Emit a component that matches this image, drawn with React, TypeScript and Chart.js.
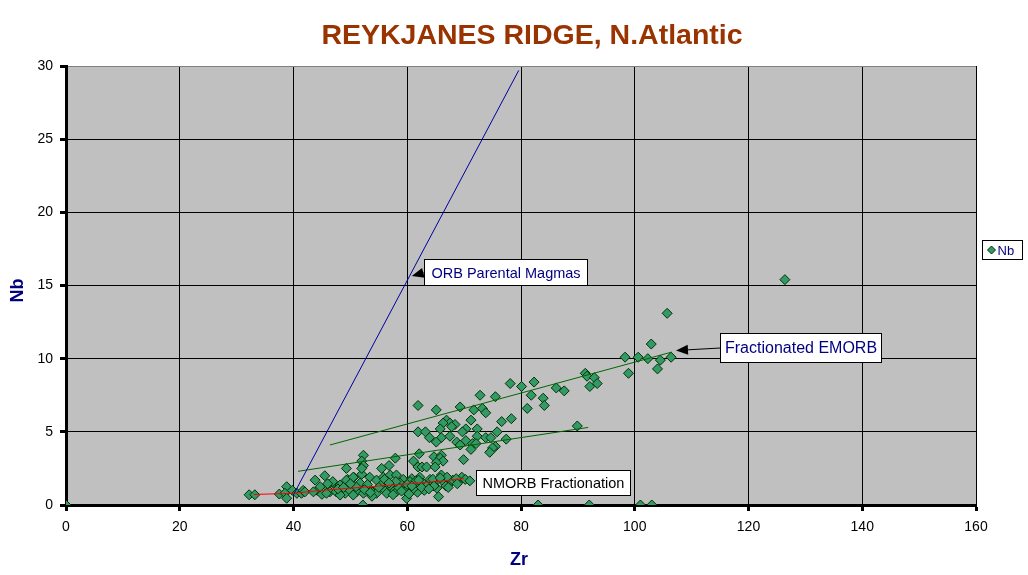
import React, { useEffect, useRef } from 'react';
import { Chart, registerables } from 'chart.js';

Chart.register(...registerables);

// Sample data (Zr vs Nb)
const ZR = [
  0, 126.4, 105.7, 102.9, 98.3, 100.6, 102.3, 104.5, 106.4, 104.0, 98.9, 91.3, 91.6, 92.9, 93.4, 92.1,
  87.6, 86.2, 82.3, 80.1, 78.1, 81.8, 83.9, 84.1, 81.1, 75.5, 72.8, 69.3, 71.7, 73.2, 73.8, 65.1, 61.9,
  78.3, 76.6, 71.2, 66.9, 67.5, 68.4, 66.3, 65.8, 67.8, 70.3, 72.3, 72.3, 69.7, 61.9, 63.2, 63.9, 66.0,
  67.5, 75.8, 73.8, 74.7, 77.4, 65.1, 68.7, 69.3, 70.3, 71.5, 72.1, 75.5, 75.0, 74.5, 71.2, 89.9, 62.1,
  64.7, 66.0, 65.8, 69.9, 61.1, 52.3, 57.9, 52.0, 52.3, 49.3, 55.5, 56.8, 61.9, 62.6, 63.4, 66.3, 65.1,
  64.9, 52.0, 45.5, 43.8, 59.9, 61.8, 65.5, 52.2, 83.0, 92.0, 101.0, 103.0, 32.2, 33.2, 37.5, 38.8,
  38.5, 38.8, 39.8, 40.6, 41.4, 41.7, 42.0, 47.0, 48.2, 49.5, 50.6, 51.7, 53.4, 54.6, 55.8, 57.0, 58.1,
  59.3, 60.8, 62.2, 64.0, 44.2, 45.8, 46.4, 47.5, 49.1, 49.9, 51.1, 52.3, 52.9, 54.0, 54.9, 56.1, 57.0,
  57.8, 58.7, 59.6, 60.5, 61.7, 62.8, 64.6, 66.3, 67.5, 69.3, 45.0, 48.2, 50.5, 54.6, 56.4, 58.1, 59.9,
  63.4, 65.2, 44.7, 45.8, 46.9, 48.2, 49.3, 50.5, 66.0, 64.5, 68.0, 64.7, 69.6, 68.6, 53.0, 55.5, 56.5,
  58.5, 60.0, 61.0, 63.0, 51.0, 47.8, 43.5, 53.8, 57.5, 60.3, 62.5, 66.8, 70.2, 67.0, 52.0,
  50.0, 52.5, 55.0, 56.0, 58.0, 59.0, 61.5, 63.8, 65.8, 67.2, 68.8, 71.0, 53.5, 56.8, 60.8, 62.0,
  48.8, 46.0
];
const NB = [
  0, 15.4, 13.1, 11.0, 10.1, 10.1, 10.0, 9.9, 10.1, 9.3, 9.0, 9.0, 8.8, 8.7, 8.3, 8.1,
  7.8, 8.0, 8.4, 8.1, 8.3, 7.5, 7.3, 6.8, 6.6, 7.4, 7.5, 6.7, 6.5, 6.6, 6.3, 6.5, 6.8,
  5.9, 5.7, 5.8, 5.8, 5.6, 5.5, 5.6, 5.2, 5.35, 5.2, 5.2, 4.7, 5.0, 5.0, 5.0, 4.6, 4.6,
  4.7, 5.0, 4.6, 4.6, 4.5, 4.3, 4.3, 4.1, 4.4, 4.2, 4.2, 4.0, 3.9, 3.6, 3.8, 5.4, 3.5,
  3.3, 3.4, 3.2, 3.1, 3.0, 3.4, 3.2, 3.0, 2.7, 2.5, 2.5, 2.7, 2.6, 2.6, 2.6, 3.0, 2.9,
  2.6, 2.1, 2.0, 1.7, 0.45, 0.87, 0.57, 0, 0, 0, 0, 0, 0.7, 0.7, 0.75, 1.25,
  0.8, 0.46, 1.0, 0.8, 0.8, 1.0, 0.9, 1.5, 1.3, 1.75, 1.9, 1.5, 1.9, 1.7, 1.9, 2.05, 2.05,
  1.75, 1.8, 1.9, 1.75, 1.0, 1.25, 0.9, 0.9, 0.8, 1.0, 0.9, 0.8, 1.15, 0.9, 1.15, 1.0, 1.3,
  1.0, 1.5, 1.25, 1.6, 1.35, 1.5, 1.45, 1.6, 1.5, 1.7, 0.73, 0.68, 0.68, 0.8, 0.8, 0.9, 1.0,
  1.3, 1.15, 1.25, 0.8, 1.6, 1.37, 1.7, 1.9, 2.05, 1.76, 1.7, 1.3, 1.9, 1.8, 1.4, 1.4, 1.6,
  1.2, 1.4, 1.1, 1.0, 1.25, 1.1, 0.9, 0.6, 0.7, 0.75, 1.2, 1.3, 1.75, 1.9, 2.5,
  1.45, 1.05, 1.2, 1.75, 1.6, 0.95, 1.65, 1.1, 1.85, 1.2, 1.45, 1.65, 0.85, 1.5, 1.3, 1.7,
  1.2, 1.45
];

// Model lines
const PARENTAL_ZR = [40, 79.6];
const PARENTAL_NB = [0.7, 29.7];
const EMORB_UPPER_ZR = [46.4, 106.5];
const EMORB_UPPER_NB = [4.1, 10.45];
const EMORB_LOWER_ZR = [40.8, 91.8];
const EMORB_LOWER_NB = [2.3, 5.3];
const NMORB_ZR = [33, 40, 45, 50, 55, 60, 65, 70];
const NMORB_NB = [0.72, 0.8, 1.0, 1.15, 1.3, 1.45, 1.6, 1.8];

// Axis ticks
const X_TICKS = [0, 20, 40, 60, 80, 100, 120, 140, 160];
const Y_TICKS = [0, 5, 10, 15, 20, 25, 30];

const TITLE = 'REYKJANES RIDGE, N.Atlantic';
const X_TITLE = 'Zr';
const Y_TITLE = 'Nb';
const SERIES_NAME = 'Nb';

// Annotation labels (box top-left in data units, arrow tip in data units)
const ANNOTATIONS = [
  { text: 'ORB Parental Magmas', x: 62.95, y: 16.81, size: 14.5, pad: 7, h: 26, color: '#000080', tip: [60.8, 15.65] },
  { text: 'Fractionated EMORB', x: 115.0, y: 11.75, size: 16, pad: 4.5, h: 29, color: '#000080', tip: [107.25, 10.56] },
  { text: 'NMORB Fractionation', x: 72.1, y: 2.39, size: 14.5, pad: 6, h: 25, color: '#000000', tip: null },
];

const FONT = '"Liberation Sans", Arial, sans-serif';

const pts = (xs: number[], ys: number[]) => xs.map((x, i) => ({ x, y: ys[i] }));

const overlayPlugin = {
  id: 'overlay',
  beforeDraw(chart: any) {
    const { ctx, chartArea: a } = chart;
    ctx.save();
    ctx.fillStyle = '#C0C0C0';
    ctx.fillRect(a.left, a.top, a.right - a.left, a.bottom - a.top);
    ctx.restore();
  },
  afterDraw(chart: any) {
    const { ctx, chartArea: a, scales } = chart;
    const xs = scales.x;
    const ys = scales.y;
    ctx.save();
    // Title
    ctx.fillStyle = '#993300';
    ctx.font = `bold 28.5px ${FONT}`;
    ctx.textAlign = 'center';
    ctx.textBaseline = 'alphabetic';
    ctx.fillText(TITLE, 532, 44);
    // Axis titles
    ctx.fillStyle = '#000080';
    ctx.font = `bold 18px ${FONT}`;
    ctx.textBaseline = 'middle';
    ctx.fillText(X_TITLE, (a.left + a.right) / 2 - 2, 560);
    ctx.save();
    ctx.translate(18, (a.top + a.bottom) / 2 + 5);
    ctx.rotate(-Math.PI / 2);
    ctx.fillText(Y_TITLE, 0, 0);
    ctx.restore();

    // Annotations
    for (const an of ANNOTATIONS) {
      ctx.font = `${an.size}px ${FONT}`;
      const tw = ctx.measureText(an.text).width;
      const bx = Math.round(xs.getPixelForValue(an.x)) + 0.5;
      const by = Math.round(ys.getPixelForValue(an.y)) + 0.5;
      const bw = Math.round(tw + 2 * an.pad);
      ctx.fillStyle = '#FFFFFF';
      ctx.fillRect(bx, by, bw, an.h);
      ctx.strokeStyle = '#000000';
      ctx.lineWidth = 1;
      ctx.strokeRect(bx, by, bw, an.h);
      ctx.fillStyle = an.color;
      ctx.textAlign = 'left';
      ctx.textBaseline = 'middle';
      ctx.fillText(an.text, bx + an.pad, by + an.h / 2 + 1);
      if (an.tip) {
        const tx = xs.getPixelForValue(an.tip[0]);
        const ty = ys.getPixelForValue(an.tip[1]);
        const sx = bx;
        const sy = by + an.h / 2;
        const ang = Math.atan2(ty - sy, tx - sx);
        const len = 12;
        const hw = 5;
        const baseX = tx - Math.cos(ang) * len;
        const baseY = ty - Math.sin(ang) * len;
        ctx.beginPath();
        ctx.moveTo(sx, sy);
        ctx.lineTo(baseX, baseY);
        ctx.strokeStyle = '#000';
        ctx.stroke();
        ctx.beginPath();
        ctx.moveTo(tx, ty);
        ctx.lineTo(baseX - Math.sin(ang) * hw, baseY + Math.cos(ang) * hw);
        ctx.lineTo(baseX + Math.sin(ang) * hw, baseY - Math.cos(ang) * hw);
        ctx.closePath();
        ctx.fillStyle = '#000';
        ctx.fill();
      }
    }

    // Legend
    const lx = 982.5, ly = 240.5, lw = 40, lh = 19;
    ctx.fillStyle = '#FFFFFF';
    ctx.fillRect(lx, ly, lw, lh);
    ctx.strokeStyle = '#000';
    ctx.lineWidth = 1;
    ctx.strokeRect(lx, ly, lw, lh);
    const cx = lx + 9, cy = ly + lh / 2;
    ctx.beginPath();
    ctx.moveTo(cx, cy - 4);
    ctx.lineTo(cx + 4, cy);
    ctx.lineTo(cx, cy + 4);
    ctx.lineTo(cx - 4, cy);
    ctx.closePath();
    ctx.fillStyle = '#339966';
    ctx.fill();
    ctx.strokeStyle = '#003300';
    ctx.stroke();
    ctx.fillStyle = '#000080';
    ctx.font = `13px ${FONT}`;
    ctx.textAlign = 'left';
    ctx.textBaseline = 'middle';
    ctx.fillText(SERIES_NAME, cx + 6, cy + 1);
    ctx.restore();
  },
};

export default function App() {
  const ref = useRef<HTMLCanvasElement>(null);
  useEffect(() => {
    document.body.style.margin = '0';
    const canvas = ref.current!;
    const lineDs = (label: string, xs: number[], ys: number[], color: string) => ({
      label,
      data: pts(xs, ys),
      showLine: true,
      borderColor: color,
      backgroundColor: color,
      borderWidth: 1,
      pointRadius: 0,
      order: 0,
    });
    const chart = new Chart(canvas, {
      type: 'scatter',
      data: {
        datasets: [
          lineDs('ORB Parental Magmas', PARENTAL_ZR, PARENTAL_NB, '#0000A0'),
          lineDs('EMORB upper', EMORB_UPPER_ZR, EMORB_UPPER_NB, '#006600'),
          lineDs('EMORB lower', EMORB_LOWER_ZR, EMORB_LOWER_NB, '#006600'),
          lineDs('NMORB Fractionation', NMORB_ZR, NMORB_NB, '#FF0000'),
          {
            label: SERIES_NAME,
            data: pts(ZR, NB),
            pointStyle: 'rectRot',
            pointRadius: 5,
            backgroundColor: '#339966',
            borderColor: '#003300',
            borderWidth: 1,
            showLine: false,
            order: 10,
          } as any,
        ],
      },
      options: {
        responsive: false,
        animation: false,
        layout: { padding: { left: 0, top: 66, right: 52, bottom: 0 } },
        plugins: { legend: { display: false }, tooltip: { enabled: false }, title: { display: false } },
        scales: {
          x: {
            type: 'linear',
            min: 0,
            max: 160,
            afterBuildTicks: (s: any) => { s.ticks = X_TICKS.map((v) => ({ value: v })); },
            afterFit: (s: any) => { s.height = 70; },
            ticks: { color: '#000', font: { family: FONT, size: 14 }, padding: 8, maxRotation: 0 },
            grid: { color: '#000', lineWidth: 1, tickLength: 6, tickWidth: 3, tickColor: '#000' },
            border: { display: true, color: '#000', width: 3 },
          },
          y: {
            type: 'linear',
            min: 0,
            max: 30,
            afterBuildTicks: (s: any) => { s.ticks = Y_TICKS.map((v) => ({ value: v })); },
            afterFit: (s: any) => { s.width = 66; },
            ticks: { color: '#000', font: { family: FONT, size: 14 }, padding: 7 },
            grid: {
              color: (c: any) => (c.tick && c.tick.value === 30 ? '#808080' : '#000'),
              lineWidth: 1,
              tickLength: 6,
              tickWidth: 3,
              tickColor: '#000',
            },
            border: { display: true, color: '#000', width: 3 },
          },
        },
      },
      plugins: [overlayPlugin],
    });
    return () => chart.destroy();
  }, []);
  return (
    <div style={{ position: 'absolute', left: 0, top: 0, width: 1028, height: 575, background: '#fff' }}>
      <canvas ref={ref} width={1028} height={575} />
    </div>
  );
}
